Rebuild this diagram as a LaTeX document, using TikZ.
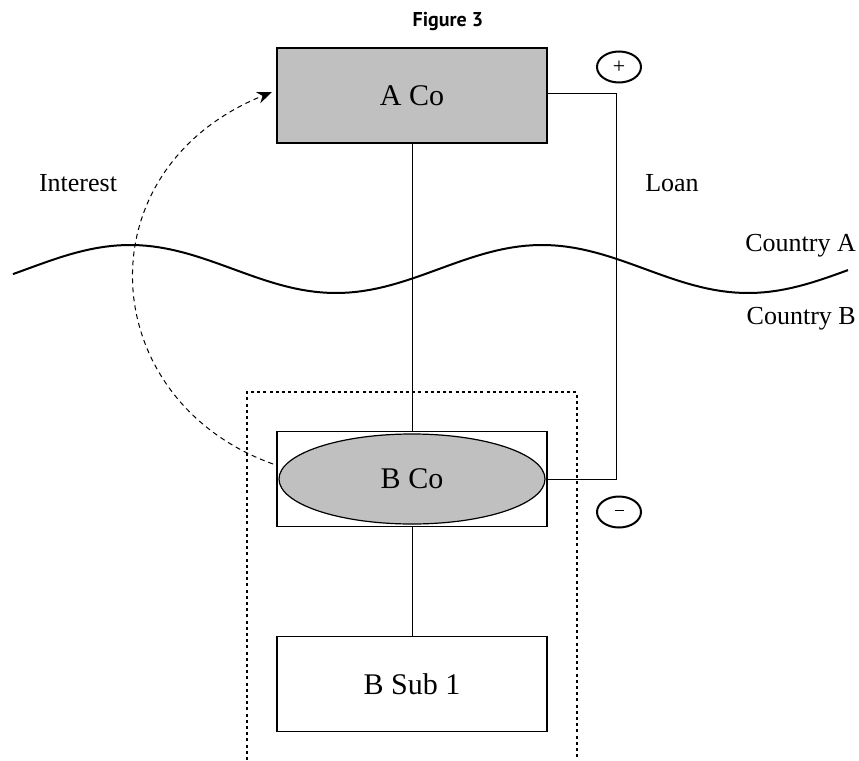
\documentclass[tikz,border=0pt]{standalone}
\usepackage{fontspec}
\setmainfont{Liberation Serif}
\newfontfamily\titlefont{PT Sans}
\usetikzlibrary{arrows.meta,shapes.geometric}
\definecolor{boxgray}{HTML}{C0C0C0}
\tikzset{
  entity/.style={draw, line width=1.4pt, minimum width=270pt, minimum height=95pt,
    inner sep=0pt, font=\fontsize{30}{32}\selectfont},
  bluff/.style={ellipse, draw, line width=1.2pt, fill=boxgray, minimum width=266pt,
    minimum height=90pt, inner sep=0pt, font=\fontsize{30}{32}\selectfont},
  sign/.style={ellipse, draw, line width=2pt, minimum width=44pt, minimum height=31pt,
    inner sep=0pt, font=\fontsize{22}{22}\selectfont},
  label/.style={font=\fontsize{26}{28}\selectfont, inner sep=0pt},
  link/.style={line width=1pt},
  wave/.style={line width=2pt},
  group/.style={draw, line width=2.8pt, dash pattern=on 3pt off 3.2pt},
  flow/.style={line width=1pt, dash pattern=on 5pt off 4pt,
    -{Stealth[length=15pt,width=12pt]}}
}
\begin{document}
\begin{tikzpicture}[x=1pt,y=-1pt]
  \useasboundingbox (0,0) rectangle (859,760);

  % heading
  \node (title) at (448,22) {\titlefont\bfseries\fontsize{20}{22}\selectfont Figure 3};

  % the group in Country B, open at the bottom edge
  \draw[group] (247,760) -- (247,392) -- (577,392) -- (577,760);

  % companies
  \node[entity, fill=boxgray] (aco) at (412,95.5) {A Co};
  \node[entity] (bco) at (412,479) {};
  \node[bluff] (bcoell) at (412,479) {B Co};
  \node[entity] (bsub) at (412,684) {B Sub 1};

  % ownership links
  \draw[link] (aco.south) -- (bco.north);
  \draw[link] (bco.south) -- (bsub.north);

  % loan from A Co to B Co
  \coordinate (loanTop) at (616,93);
  \draw[link] (aco.east |- loanTop) -- (loanTop) |- (bcoell.east);

  % signs of the loan
  \node[sign] (plus) at (619,67) {+};
  \node[sign] (minus) at (619,512) {\fontsize{14}{14}\selectfont\rule[3pt]{9pt}{0.6pt}};

  % interest paid back to A Co
  \coordinate (interestStart) at (273,464);
  \coordinate (interestEnd) at (272,92);
  \draw[flow] (interestStart) .. controls (95,400) and (80,170) .. (interestEnd);

  % border between the two countries
  \draw[wave] plot[domain=13:848, samples=120]
    (\x, {269-24*cos((\x-130)/412*360)});

  % labels
  \node[label] (interest) at (78,183) {Interest};
  \node[label] (loan) at (672,183) {Loan};
  \node[label, anchor=east] (ctyA) at (856,246) {Country A};
  \node[label, anchor=east] (ctyB) at (856,319) {Country B};
\end{tikzpicture}
\end{document}
